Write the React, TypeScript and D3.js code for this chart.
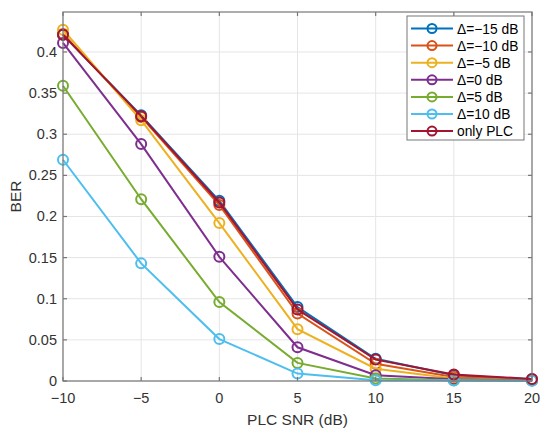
import React, { useEffect, useRef } from "react";
import * as d3 from "d3";

const snr = [-10, -5, 0, 5, 10, 15, 20];

const seriesNames = ["Δ=−15 dB", "Δ=−10 dB", "Δ=−5 dB", "Δ=0 dB", "Δ=5 dB", "Δ=10 dB", "only PLC"];

const berM15 = [0.421, 0.323, 0.219, 0.090, 0.027, 0.007, 0.002];
const berM10 = [0.422, 0.321, 0.214, 0.082, 0.021, 0.005, 0.0015];
const berM5 = [0.427, 0.317, 0.192, 0.063, 0.015, 0.003, 0.001];
const ber0 = [0.411, 0.288, 0.151, 0.041, 0.007, 0.002, 0.001];
const ber5 = [0.359, 0.221, 0.096, 0.022, 0.003, 0.001, 0.0005];
const ber10 = [0.269, 0.143, 0.051, 0.009, 0.001, 0.0005, 0.0003];
const berPlc = [0.421, 0.322, 0.217, 0.087, 0.026, 0.008, 0.0025];

const xTicks = [-10, -5, 0, 5, 10, 15, 20];
const yTicks = [0, 0.05, 0.1, 0.15, 0.2, 0.25, 0.3, 0.35, 0.4];

const colors = ["#0072BD", "#D95319", "#EDB120", "#7E2F8E", "#77AC30", "#4DBEEE", "#A2142F"];

const W = 550;
const H = 436;
const margin = { left: 63, right: 18, top: 12, bottom: 55 };

const fmtX = (v: number) => (v < 0 ? "\u2212" + Math.abs(v) : String(v));

export default function App() {
    const ref = useRef<SVGSVGElement>(null);

    useEffect(() => {
        const all = [berM15, berM10, berM5, ber0, ber5, ber10, berPlc];
        const svg = d3.select(ref.current);
        svg.selectAll("*").remove();

        const x = d3.scaleLinear().domain([-10, 20]).range([margin.left, W - margin.right]);
        const y = d3.scaleLinear().domain([0, 0.4486]).range([H - margin.bottom, margin.top]);
        const font = "'Liberation Sans', Arial, sans-serif";
        const axisColor = "#777";
        const textColor = "#333";

        svg.append("rect")
            .attr("x", x(-10)).attr("y", y(0.4486))
            .attr("width", x(20) - x(-10)).attr("height", y(0) - y(0.4486))
            .attr("fill", "#fff");

        // grid
        const grid = svg.append("g").attr("stroke", "#e5e5e5").attr("stroke-width", 1);
        xTicks.forEach(t => {
            grid.append("line").attr("x1", x(t)).attr("x2", x(t))
                .attr("y1", y(0)).attr("y2", y(0.4486));
        });
        yTicks.forEach(t => {
            grid.append("line").attr("x1", x(-10)).attr("x2", x(20))
                .attr("y1", y(t)).attr("y2", y(t));
        });

        // series
        const line = d3.line<number>()
            .x((d, i) => x(snr[i]))
            .y(d => y(d));
        all.forEach((vals, k) => {
            const g = svg.append("g");
            g.append("path")
                .attr("d", line(vals) ?? "")
                .attr("fill", "none")
                .attr("stroke", colors[k])
                .attr("stroke-width", 2);
            g.selectAll("circle")
                .data(vals)
                .enter()
                .append("circle")
                .attr("cx", (d, i) => x(snr[i]))
                .attr("cy", d => y(d))
                .attr("r", 5)
                .attr("fill", "none")
                .attr("stroke", colors[k])
                .attr("stroke-width", 2);
        });

        // box + ticks
        const frame = svg.append("g").attr("stroke", axisColor).attr("stroke-width", 1.2);
        frame.append("rect")
            .attr("x", x(-10)).attr("y", y(0.4486))
            .attr("width", x(20) - x(-10)).attr("height", y(0) - y(0.4486))
            .attr("fill", "none");
        xTicks.forEach(t => {
            frame.append("line").attr("x1", x(t)).attr("x2", x(t)).attr("y1", y(0)).attr("y2", y(0) - 4);
            frame.append("line").attr("x1", x(t)).attr("x2", x(t)).attr("y1", y(0.4486)).attr("y2", y(0.4486) + 4);
        });
        yTicks.forEach(t => {
            frame.append("line").attr("x1", x(-10)).attr("x2", x(-10) + 4).attr("y1", y(t)).attr("y2", y(t));
            frame.append("line").attr("x1", x(20)).attr("x2", x(20) - 4).attr("y1", y(t)).attr("y2", y(t));
        });

        // tick labels
        svg.append("g").selectAll("text")
            .data(xTicks).enter().append("text")
            .attr("x", d => x(d)).attr("y", y(0) + 22)
            .attr("text-anchor", "middle")
            .attr("font-family", font).attr("font-size", 14.5).attr("fill", textColor)
            .text(d => fmtX(d));
        svg.append("g").selectAll("text")
            .data(yTicks).enter().append("text")
            .attr("x", x(-10) - 6).attr("y", d => y(d) + 5)
            .attr("text-anchor", "end")
            .attr("font-family", font).attr("font-size", 14.5).attr("fill", textColor)
            .text(d => String(d));

        // axis labels
        svg.append("text")
            .attr("x", (x(-10) + x(20)) / 2).attr("y", y(0) + 44)
            .attr("text-anchor", "middle")
            .attr("font-family", font).attr("font-size", 15.5).attr("fill", textColor)
            .text("PLC SNR (dB)");
        svg.append("text")
            .attr("transform", `translate(21,${(y(0) + y(0.4486)) / 2}) rotate(-90)`)
            .attr("text-anchor", "middle")
            .attr("font-family", font).attr("font-size", 15.5).attr("fill", textColor)
            .text("BER");

        // legend
        const lg = svg.append("g");
        lg.append("rect")
            .attr("x", 407).attr("y", 16).attr("width", 117).attr("height", 124)
            .attr("fill", "#fff").attr("stroke", axisColor).attr("stroke-width", 1);
        seriesNames.forEach((name, k) => {
            const ly = 28.5 + k * 17.1;
            lg.append("line").attr("x1", 411).attr("x2", 453).attr("y1", ly).attr("y2", ly)
                .attr("stroke", colors[k]).attr("stroke-width", 2);
            lg.append("circle").attr("cx", 432).attr("cy", ly).attr("r", 4.5)
                .attr("fill", "none").attr("stroke", colors[k]).attr("stroke-width", 2);
            lg.append("text").attr("x", 457).attr("y", ly + 5)
                .attr("font-family", font).attr("font-size", 13.8).attr("fill", "#000")
                .text(name);
        });
    }, []);

    return <div style={{ position: "absolute", left: 0, top: 0 }}>
        <svg ref={ref} width={W} height={H} style={{ display: "block", background: "#fff" }}></svg>
    </div>;
}
